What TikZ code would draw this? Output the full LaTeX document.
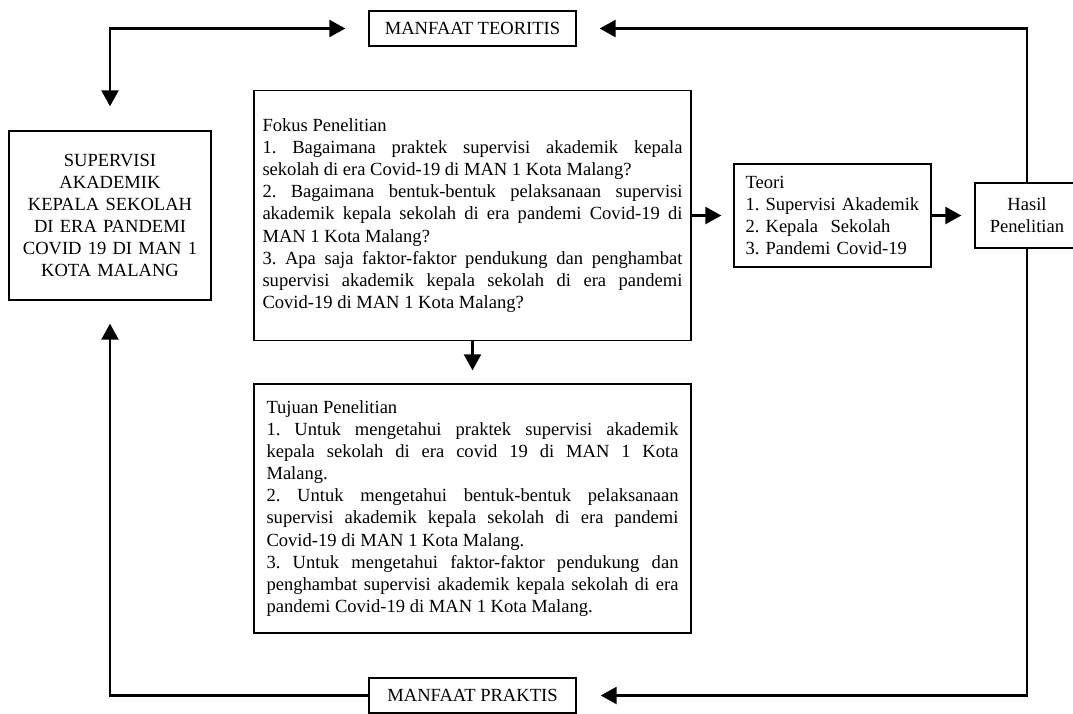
\documentclass[tikz,border=0pt]{standalone}
\usepackage{fontspec}
\setmainfont{Liberation Serif}
\usepackage{tikz}
\usetikzlibrary{arrows.meta,positioning,calc}
\hyphenpenalty=10000
\exhyphenpenalty=10000
\frenchspacing

\begin{document}
\begin{tikzpicture}[
    % box and connector styles
    box/.style={rectangle, draw, line width=0.9pt, font=\fontsize{13.2}{15.7}\selectfont},
    titlebox/.style={box, minimum width=5.175cm, minimum height=0.875cm, inner sep=0pt},
    mainbox/.style={box, text width=4.6cm, inner xsep=0.225cm, align=center, minimum height=4.225cm},
    listbox/.style={box, align=justify, minimum height=6.25cm},
    arrow/.style={-{Triangle[length=0.4cm,width=0.42cm]}, line width=2pt},
    twoarrow/.style={{Triangle[length=0.4cm,width=0.42cm]}-{Triangle[length=0.4cm,width=0.42cm]}, line width=2pt}
]
\useasboundingbox (0,0) rectangle (26.825,-17.825);

% Top and bottom labels
\node [titlebox] (teoritis) at (11.8125,-0.7125) {MANFAAT TEORITIS};
\node [titlebox] (praktis) at (11.8125,-17.3875) {MANFAAT PRAKTIS};

% Main row
\node [mainbox] (judul) at (2.75,-5.3875) {SUPERVISI\\AKADEMIK\\KEPALA SEKOLAH\\DI ERA PANDEMI\\COVID 19 DI MAN 1\\KOTA MALANG};
\node [listbox, text width=10.5cm, inner xsep=0.2125cm] (fokus) at (11.8125,-5.3875) {Fokus Penelitian\\
1. Bagaimana praktek supervisi akademik kepala\linebreak sekolah di era Covid-19 di MAN 1 Kota Malang?\\
2. Bagaimana bentuk-bentuk pelaksanaan supervisi\linebreak akademik kepala sekolah di era pandemi Covid-19 di\linebreak MAN 1 Kota Malang?\\
3. Apa saja faktor-faktor pendukung dan penghambat\linebreak supervisi akademik kepala sekolah di era pandemi\linebreak Covid-19 di MAN 1 Kota Malang?};
\node [box, text width=4.35cm, inner xsep=0.2875cm, align=left, minimum height=2.575cm] (teori) at (20.8125,-5.3875) {Teori\\1. Supervisi Akademik\\2. Kepala~ Sekolah\\3. Pandemi Covid-19};
\node [box, align=center, minimum width=2.6cm, minimum height=1.625cm] (hasil) at (25.675,-5.3875) {Hasil\\Penelitian};

% Second row
\node [listbox, text width=10.3cm, inner xsep=0.3125cm, minimum height=6.225cm] (tujuan) at (11.8125,-12.7125) {Tujuan Penelitian\\
1. Untuk mengetahui praktek supervisi akademik\linebreak kepala sekolah di era covid 19 di MAN 1 Kota\linebreak Malang.\\
2. Untuk mengetahui bentuk-bentuk pelaksanaan\linebreak supervisi akademik kepala sekolah di era pandemi\linebreak Covid-19 di MAN 1 Kota Malang.\\
3. Untuk mengetahui faktor-faktor pendukung dan\linebreak penghambat supervisi akademik kepala sekolah di era\linebreak pandemi Covid-19 di MAN 1 Kota Malang.};

% Flow through the middle
\draw [arrow, shorten >=0.3cm] (fokus) -- (teori);
\draw [arrow, shorten >=0.325cm] (teori) -- (hasil);
\draw [arrow, shorten >=0.325cm] (fokus) -- (tujuan);

% Outer loop
\draw [twoarrow, shorten <=0.6cm, shorten >=0.575cm] (judul.north) |- (teoritis.west);
\draw [arrow, shorten >=0.575cm] (hasil.north) |- (teoritis.east);
\draw [arrow, shorten >=0.6cm] (hasil.south) |- (praktis.east);
\draw [arrow, shorten >=0.575cm] (praktis.west) -| (judul.south);

\end{tikzpicture}
\end{document}
